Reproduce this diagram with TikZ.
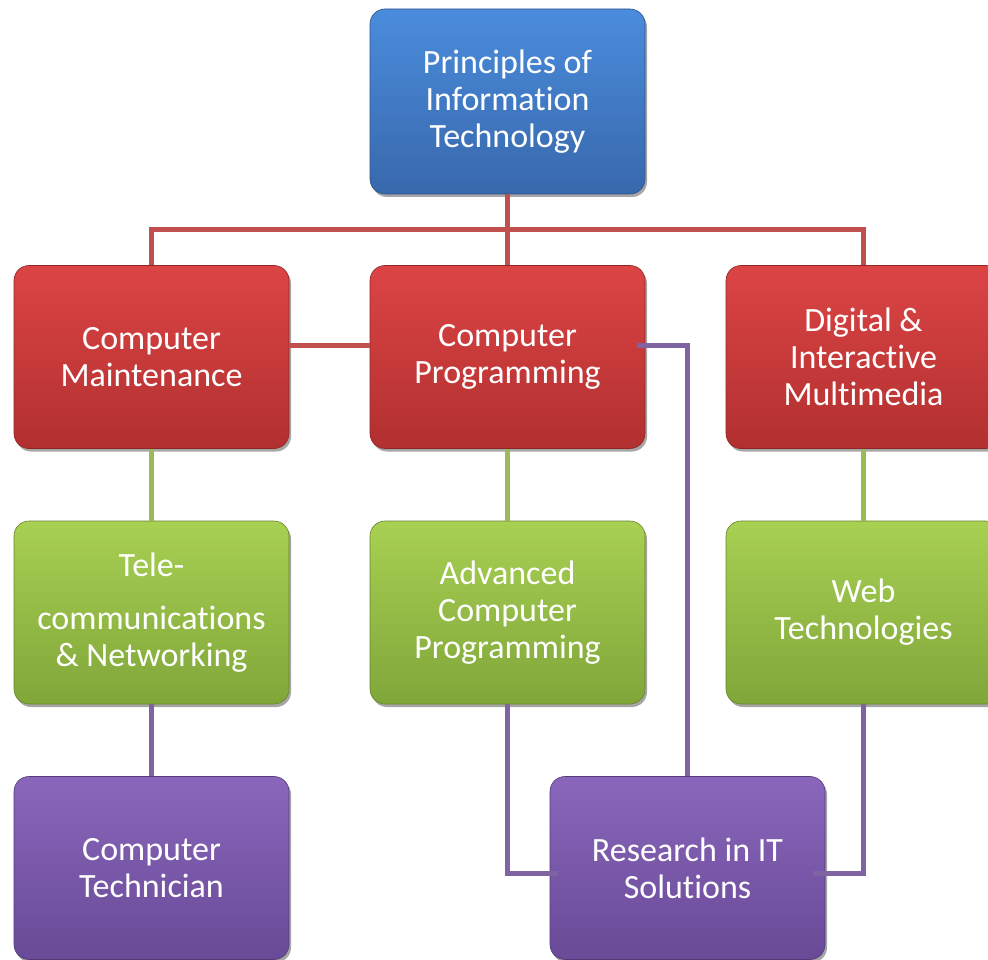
\documentclass[tikz,border=0pt]{standalone}
\usepackage{fontspec}
\setmainfont[Ligatures=NoCommon]{Carlito}
\usetikzlibrary{shadows}
\definecolor{blueT}{RGB}{74,140,220}
\definecolor{blueB}{RGB}{56,104,172}
\definecolor{redT}{RGB}{220,68,68}
\definecolor{redB}{RGB}{178,48,48}
\definecolor{greenT}{RGB}{168,208,82}
\definecolor{greenB}{RGB}{128,166,58}
\definecolor{purpT}{RGB}{138,102,188}
\definecolor{purpB}{RGB}{104,74,150}
\definecolor{redL}{RGB}{192,80,77}
\definecolor{greenL}{RGB}{155,187,89}
\definecolor{purpL}{RGB}{128,100,162}
\tikzset{
  box/.style={rounded corners=15pt, minimum width=275pt, minimum height=183pt,
    inner sep=0pt, align=center, text=white,
    font=\fontsize{34}{37}\selectfont,
    drop shadow={shadow xshift=2pt, shadow yshift=-3pt, opacity=0.35, fill=black}},
  bluebox/.style={box, top color=blueT, bottom color=blueB, draw=blueB!80!black, line width=0.6pt},
  redbox/.style={box, top color=redT, bottom color=redB, draw=redB!80!black, line width=0.6pt},
  greenbox/.style={box, top color=greenT, bottom color=greenB, draw=greenB!80!black, line width=0.6pt},
  purpbox/.style={box, top color=purpT, bottom color=purpB, draw=purpB!80!black, line width=0.6pt},
  redline/.style={draw=redL, line width=5pt},
  greenline/.style={draw=greenL, line width=5pt},
  purpline/.style={draw=purpL, line width=5pt},
}
\begin{document}
\begin{tikzpicture}[x=1pt,y=-1pt]
\useasboundingbox (0,0) rectangle (988,960);
\clip (0,0) rectangle (988,960);
\fill[white] (0,0) rectangle (988,960);
% nodes
\node[bluebox, minimum height=185pt] (pit) at (507.5,101.5) {Principles of\\Information\\Technology};
\node[redbox] (cm) at (151.5,357) {Computer\\Maintenance};
\node[redbox] (cp) at (507.5,357) {Computer\\Programming};
\node[redbox] (dim) at (863.5,357) {Digital \&\\Interactive\\Multimedia};
\node[greenbox] (tn) at (151.5,612.5) {Tele-\\[16pt]communications\\\& Networking};
\node[greenbox] (acp) at (507.5,612.5) {Advanced\\Computer\\Programming};
\node[greenbox] (wt) at (863.5,612.5) {Web\\Technologies};
\node[purpbox] (ct) at (151.5,868) {Computer\\Technician};
\node[purpbox] (ris) at (687.5,868) {Research in IT\\Solutions};
\coordinate (jn) at (507.5,230);
% red connectors
\draw[redline] (pit.south) -- (jn);
\draw[redline] (cm.north) -- (cm.north |- jn) -- (dim.north |- jn) -- (dim.north);
\draw[redline] (jn) -- (cp.north);
\draw[redline] ([yshift=12pt]cm.east) -- ([yshift=12pt]cp.west);
% green connectors
\draw[greenline] (cm.south) -- (tn.north);
\draw[greenline] (cp.south) -- (acp.north);
\draw[greenline] (dim.south) -- (wt.north);
% purple connectors
\draw[purpline] (tn.south) -- (ct.north);
\draw[purpline] ([xshift=-8pt,yshift=12pt]cp.east) -| (ris.north);
\draw[purpline] (acp.south) |- ([xshift=8pt,yshift=-5pt]ris.west);
\draw[purpline] (wt.south) |- ([xshift=-12pt,yshift=-5pt]ris.east);
\end{tikzpicture}
\end{document}
